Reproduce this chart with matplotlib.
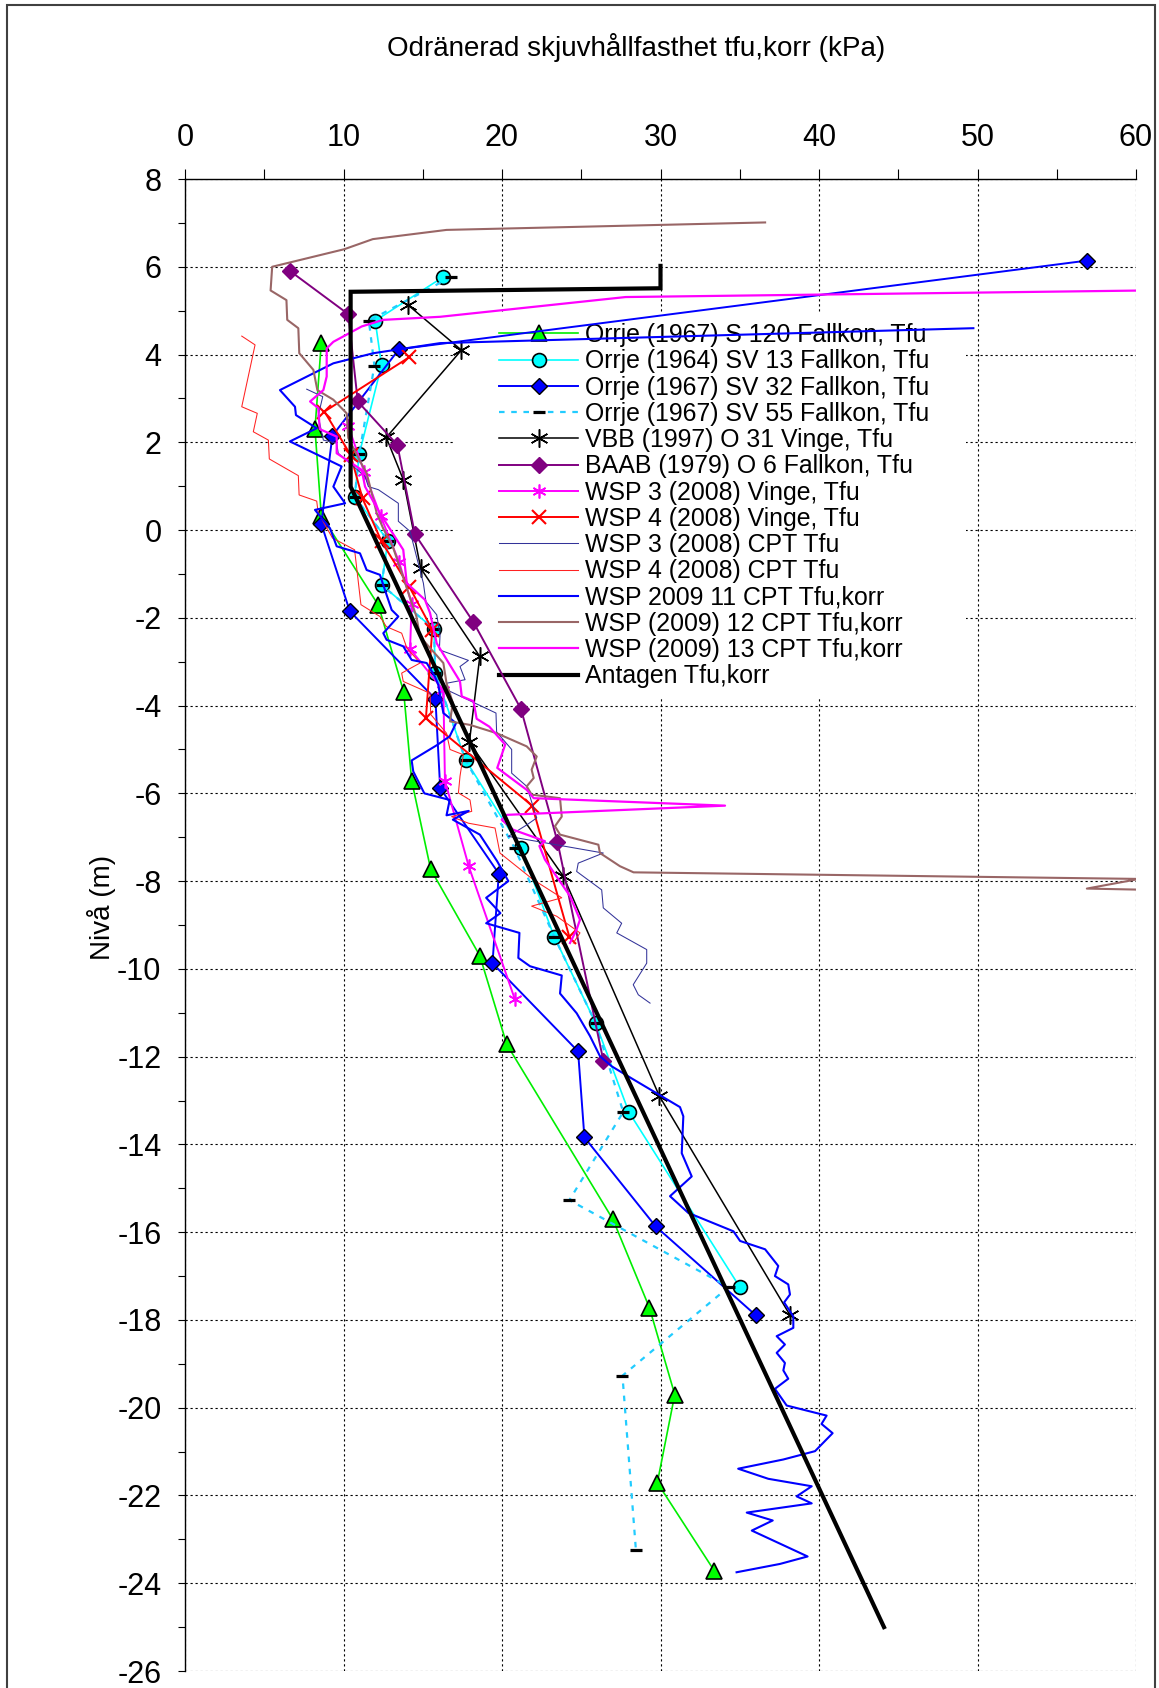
import matplotlib
matplotlib.use('Agg')
import matplotlib.pyplot as plt
from matplotlib.patches import Rectangle
from matplotlib.ticker import MultipleLocator

plt.rcParams['font.family'] = ['Liberation Sans', 'DejaVu Sans']
plt.rcParams['axes.unicode_minus'] = False

# Orrje (1967) S 120 Fallkon
s120_x = [8.6, 8.2, 8.6, 12.2, 13.8, 14.3, 15.5, 18.6, 20.3, 27.0, 29.3, 30.9, 29.8, 33.4]
s120_y = [4.27, 2.30, 0.33, -1.71, -3.69, -5.71, -7.73, -9.70, -11.72, -15.71, -17.72, -19.70, -21.71, -23.72]

# Orrje (1964) SV 13 Fallkon
sv13_x = [16.3, 12.0, 12.4, 11.0, 10.7, 12.8, 12.4, 15.7, 15.8, 17.7, 21.2, 23.3, 25.9, 28.0, 35.0]
sv13_y = [5.77, 4.77, 3.76, 1.74, 0.76, -0.24, -1.25, -2.25, -3.26, -5.24, -7.25, -9.27, -11.23, -13.26, -17.25]

# Orrje (1967) SV 32 Fallkon
sv32_x = [56.9, 13.5, 9.3, 8.6, 10.4, 15.8, 16.1, 19.8, 19.4, 24.8, 25.2, 29.7, 36.0]
sv32_y = [6.14, 4.12, 2.15, 0.14, -1.85, -3.85, -5.88, -7.83, -9.87, -11.88, -13.84, -15.87, -17.89]

# Orrje (1967) SV 55 Fallkon
sv55_x = [16.8, 11.6, 11.95, 11.0, 10.7, 12.8, 12.4, 15.7, 15.8, 17.7, 20.8, 23.3, 25.9, 27.65, 24.25, 34.3, 27.6, 28.45]
sv55_y = [5.77, 4.77, 3.75, 1.74, 0.76, -0.24, -1.25, -2.25, -3.26, -5.24, -7.25, -9.27, -11.23, -13.26, -15.27, -17.25, -19.27, -23.25]

# VBB (1997) O 31 Vinge
vbb_x = [14.1, 17.44, 12.7, 13.77, 14.87, 18.6, 17.94, 23.87, 29.93, 38.17]
vbb_y = [5.12, 4.10, 2.11, 1.15, -0.87, -2.88, -4.84, -7.89, -12.90, -17.89]

# BAAB (1979) O 6 Fallkon
baab_x = [6.6, 10.3, 10.9, 13.4, 14.5, 18.2, 21.2, 23.5, 26.4]
baab_y = [5.91, 4.92, 2.93, 1.94, -0.09, -2.10, -4.08, -7.10, -12.10]

# WSP 3 (2008) Vinge
v3_x = [10.3, 11.3, 12.35, 13.5, 14.3, 14.2, 16.3, 16.4, 17.9, 20.8]
v3_y = [2.37, 1.33, 0.31, -0.72, -1.68, -2.71, -3.65, -5.71, -7.66, -10.68]

# WSP 4 (2008) Vinge
v4_x = [14.15, 8.8, 10.45, 11.2, 12.4, 14.15, 15.6, 15.2, 21.9, 24.25]
v4_y = [3.94, 2.70, 1.71, 0.72, -0.26, -1.29, -2.27, -4.29, -6.28, -9.27]

# WSP 3 (2008) CPT
c3_x = [7.68, 8.69, 8.4, 8.73, 9.57, 9.67, 11.36, 11.57, 12.2, 13.46, 13.46, 14.2, 14.66, 15.04, 15.2,
        15.88, 16.09, 16.05, 17.88, 17.35, 17.67, 16.51, 16.51, 19.62, 19.66, 20.61, 20.61, 21.56, 22.19,
        21.56, 20.4, 26.39, 24.81, 24.71, 26.29, 26.39, 27.55, 27.24, 29.13, 29.13, 28.28, 28.6, 29.34]
c3_y = [3.21, 3.04, 2.6, 2.05, 1.98, 1.75, 1.22, 0.99, 0.92, 0.61, 0.2, -0.03, -0.68, -1.21, -1.63,
        -1.93, -2.39, -2.73, -2.97, -3.11, -3.41, -3.49, -3.64, -4.17, -4.6, -5.0, -5.54, -5.84, -6.56,
        -6.72, -6.98, -7.36, -7.59, -7.78, -8.2, -8.61, -8.96, -9.18, -9.56, -9.87, -10.36, -10.59, -10.78]

# WSP 4 (2008) CPT
c4_x = [3.58, 4.42, 3.58, 4.56, 4.31, 5.26, 5.32, 7.15, 7.2, 8.31, 8.4, 9.3, 10.7, 11.1, 12.3, 12.7,
        13.67, 14.0, 14.83, 13.67, 13.77, 15.46, 15.5, 16.5, 16.72, 17.56, 17.35, 17.25, 17.98, 18.09,
        16.82, 17.88, 19.56, 19.87, 21.98, 23.77, 21.87, 23.45, 24.92, 24.5]
c4_y = [4.42, 4.22, 2.81, 2.66, 2.24, 2.05, 1.62, 1.24, 0.8, 0.66, 0.4, -0.18, -0.45, -1.7, -1.97, -2.2,
        -2.35, -2.69, -3.03, -3.26, -3.45, -3.72, -4.2, -4.63, -5.0, -5.12, -5.61, -5.99, -6.15, -6.41,
        -6.53, -6.68, -6.79, -7.36, -7.97, -8.38, -8.57, -8.8, -9.18, -9.41]

# WSP 2009 11 CPT
c11_x = [49.74, 16.09, 11.88, 9.36, 5.99, 6.94, 7.0, 8.31, 6.62, 9.88, 9.36, 10.1, 8.2, 9.15, 9.57,
         11.04, 11.46, 12.3, 12.72, 13.04, 13.46, 12.51, 12.72, 13.77, 14.3, 15.25, 15.77, 15.98, 16.3,
         17.1, 16.7, 15.9, 14.3, 14.4, 15.1, 16.7, 16.5, 17.9, 16.9, 18.6, 19.7, 20.4, 19.0, 19.9, 19.0,
         21.1, 21.03, 21.77, 23.77, 23.66, 24.71, 25.55, 26.18, 26.92, 28.2, 31.23, 31.44, 31.34, 31.97,
         30.6, 31.75, 34.6, 35.02, 36.6, 37.43, 37.22, 38.06, 38.17, 37.8, 38.38, 38.38, 37.33, 37.85,
         37.33, 37.85, 37.75, 38.06, 37.22, 37.96, 40.48, 40.16, 40.86, 39.75, 37.75, 34.9, 36.8, 39.54,
         38.59, 39.54, 35.44, 37.08, 35.76, 37.85, 39.28, 37.54, 34.8]
c11_y = [4.6, 4.26, 4.03, 3.8, 3.19, 2.81, 2.62, 2.32, 2.02, 1.45, 0.99, 0.61, 0.46, 0.04, -0.37,
         -0.53, -0.91, -1.02, -1.48, -1.82, -1.97, -2.35, -2.5, -2.65, -2.96, -3.03, -3.34, -3.53, -4.17,
         -4.4, -4.7, -4.9, -5.25, -5.5, -6.0, -6.15, -6.5, -6.4, -6.6, -6.94, -7.55, -8.0, -8.38, -8.73, -8.96,
         -9.18, -9.75, -9.94, -10.15, -10.56, -11.01, -11.53, -11.99, -12.22, -12.5, -13.15, -13.36, -14.2, -14.73,
         -15.18, -15.56, -15.98, -16.2, -16.39, -16.77, -17.0, -17.19, -17.42, -17.6, -17.92, -18.18, -18.37, -18.56,
         -18.75, -18.98, -19.15, -19.34, -19.57, -19.95, -20.18, -20.37, -20.58, -20.99, -21.18, -21.39, -21.62, -21.79,
         -22.02, -22.18, -22.39, -22.57, -22.8, -23.15, -23.39, -23.56, -23.75]

# WSP (2009) 12 CPT
c12_x = [36.6, 16.5, 11.85, 10.05, 5.5, 5.4, 6.4, 6.45, 7.15, 7.21, 8.1, 8.35, 9.36, 10.2, 10.3, 11.0,
         11.46, 12.1, 12.5, 13.14, 13.6, 14.6, 14.83, 16.3, 16.5, 16.9, 16.72, 17.98, 19.67, 21.56, 22.19,
         21.87, 22.0, 21.56, 21.87, 23.66, 23.77, 23.34, 23.66, 26.08, 26.18, 27.44, 28.3, 60.2, 56.9, 61.0]
c12_y = [7.01, 6.84, 6.63, 6.4, 6.0, 5.46, 5.24, 4.79, 4.6, 4.03, 3.65, 3.19, 2.97, 2.66, 2.1, 1.6,
         1.3, 0.38, 0.04, -0.41, -0.9, -1.97, -2.43, -3.03, -3.49, -3.94, -4.36, -4.44, -4.63, -4.93, -5.16,
         -5.46, -5.65, -5.84, -6.03, -6.11, -6.53, -6.75, -6.94, -7.17, -7.36, -7.66, -7.8, -7.95, -8.17, -8.2]

# WSP (2009) 13 CPT
c13_x = [60.65, 27.8, 16.1, 12.5, 11.15, 9.36, 8.94, 8.94, 8.73, 7.89, 8.41, 8.5, 9.57, 9.57, 11.15,
         11.36, 12.3, 13.77, 13.99, 15.14, 15.46, 15.88, 17.35, 17.46, 18.2, 18.4, 19.2, 20.2, 19.7, 21.56,
         22.0, 34.07, 20.3, 19.98, 20.71, 21.87, 22.71, 22.36, 22.71, 24.29, 24.92, 24.71, 24.29]
c13_y = [5.46, 5.31, 4.86, 4.79, 4.64, 4.29, 4.14, 3.5, 3.19, 2.93, 2.78, 2.3, 2.13, 1.75, 1.37,
         0.99, 0.38, -0.45, -1.21, -1.59, -1.89, -2.58, -3.45, -3.79, -3.9, -4.3, -4.48, -4.89, -5.42, -5.92,
         -6.11, -6.28, -6.49, -6.6, -6.83, -6.98, -7.09, -7.2, -7.51, -8.34, -8.88, -9.1, -9.41]

# Antagen
ant_x = [30.0, 30.0, 10.45, 10.45, 44.1]
ant_y = [6.02, 5.51, 5.43, 0.99, -25.0]

fig = plt.figure(figsize=(11.59, 16.88), dpi=100)
ax = fig.add_axes([185 / 1159, 1 - 1671 / 1688, 951 / 1159, 1492 / 1688])

ax.plot(s120_x, s120_y, color='#00ee00', lw=1.2, marker='^', ms=11, mfc='#00ff00', mec='black', mew=1.2,
        label='Orrje (1967) S 120 Fallkon, Tfu')
ax.plot(sv13_x, sv13_y, color='#00ffff', lw=1.2, marker='o', ms=10, mfc='#00ffff', mec='black', mew=1.2,
        label='Orrje (1964) SV 13 Fallkon, Tfu')
ax.plot(sv32_x, sv32_y, color='#0000ff', lw=1.4, marker='D', ms=8, mfc='#0000ff', mec='black', mew=1.0,
        label='Orrje (1967) SV 32 Fallkon, Tfu')
ax.plot(sv55_x, sv55_y, color='#22ccff', lw=1.6, ls=(0, (2.5, 3)), marker='_', ms=8.5, mec='black', mew=2.3,
        label='Orrje (1967) SV 55 Fallkon, Tfu')
ax.plot(vbb_x, vbb_y, color='black', lw=1.1, marker=(6, 2, 0), ms=13, mec='black', mew=1.1,
        label='VBB (1997) O 31 Vinge, Tfu')
ax.plot(baab_x, baab_y, color='#800080', lw=1.4, marker='D', ms=8, mfc='#800080', mec='#800080',
        label='BAAB (1979) O 6 Fallkon, Tfu')
ax.plot(v3_x, v3_y, color='#ff00ff', lw=1.4, marker=(6, 2, 0), ms=10, mec='#ff00ff', mew=1.2,
        label='WSP 3 (2008) Vinge, Tfu')
ax.plot(v4_x, v4_y, color='#ff0000', lw=1.4, marker='x', ms=10, mec='#ff0000', mew=1.5,
        label='WSP 4 (2008) Vinge, Tfu')
ax.plot(c3_x, c3_y, color='#333399', lw=0.75, label='WSP 3 (2008) CPT Tfu')
ax.plot(c4_x, c4_y, color='#ff2222', lw=0.75, label='WSP 4 (2008) CPT Tfu')
ax.plot(c11_x, c11_y, color='#0000ff', lw=1.5, label='WSP 2009 11 CPT Tfu,korr')
ax.plot(c12_x, c12_y, color='#996666', lw=1.5, label='WSP (2009) 12 CPT Tfu,korr')
ax.plot(c13_x, c13_y, color='#ff00ff', lw=1.6, label='WSP (2009) 13 CPT Tfu,korr')
ax.plot(ant_x, ant_y, color='black', lw=3.0, solid_joinstyle='miter', label='Antagen Tfu,korr')

ax.set_xlim(0, 60)
ax.set_ylim(-26, 8)
ax.xaxis.tick_top()
ax.xaxis.set_major_locator(MultipleLocator(10))
ax.xaxis.set_minor_locator(MultipleLocator(5))
ax.yaxis.set_major_locator(MultipleLocator(2))
ax.yaxis.set_minor_locator(MultipleLocator(1))
ax.tick_params(axis='x', which='both', direction='out', length=7, width=0.8, labelsize=22, pad=12)
ax.tick_params(axis='y', which='both', direction='out', length=5, width=0.8, labelsize=22, pad=12)
ax.grid(True, which='major', color='black', lw=0.8, ls=(0, (2, 2.5)))
ax.set_axisbelow(True)
for side in ['right', 'bottom']:
    ax.spines[side].set_visible(False)
for side in ['top', 'left']:
    ax.spines[side].set_linewidth(1.0)

# white area behind the legend hides the grid but not the data lines
ax.add_patch(Rectangle((17.0, -3.8), 32.3, 8.75, facecolor='white', edgecolor='none', zorder=1.2))
leg = ax.legend(loc='upper left', bbox_to_anchor=(0.330, 0.9034), frameon=False, fontsize=17.9,
                handlelength=3.2, handletextpad=0.25, labelspacing=0.09, borderpad=0, borderaxespad=0)
leg.set_zorder(1.5)

fig.text(636 / 1159, 1 - 47 / 1688, 'Odränerad skjuvhållfasthet tfu,korr (kPa)', ha='center', va='center', fontsize=20)
fig.text(102 / 1159, 1 - 907 / 1688, 'Nivå (m)', rotation=90, ha='center', va='center', fontsize=20)

fig.add_artist(Rectangle((7 / 1159, -0.05), 1148 / 1159, 1.047, transform=fig.transFigure,
                         facecolor='none', edgecolor='#404040', lw=1.5))

fig.savefig('out.png', dpi=100)
